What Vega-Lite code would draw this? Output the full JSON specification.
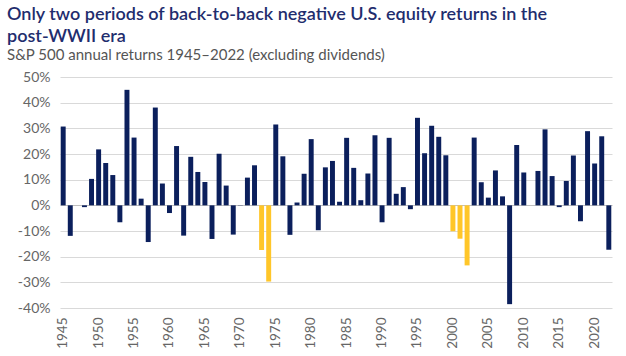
{
  "$schema": "https://vega.github.io/schema/vega-lite/v6.json",
  "autosize": "none",
  "width": 552,
  "height": 231,
  "padding": {"left": 60, "top": 77, "right": 14, "bottom": 48},
  "background": "white",
  "title": {
    "text": ["Only two periods of back-to-back negative U.S. equity returns in the", "post-WWII era"],
    "subtitle": "S&P 500 annual returns 1945–2022 (excluding dividends)",
    "anchor": "start",
    "frame": "group",
    "dx": -53,
    "offset": 7,
    "font": "Lato",
    "fontSize": 18,
    "fontWeight": 600,
    "color": "#1F2D6E",
    "lineHeight": 22,
    "subtitleFont": "Lato",
    "subtitleFontSize": 15,
    "subtitleColor": "#555555",
    "subtitlePadding": 2
  },
  "config": {
    "view": {"stroke": null},
    "font": "Lato"
  },
  "data": {
    "values": [
      {"year": 1945, "ret": 30.7, "group": "other"},
      {"year": 1946, "ret": -11.9, "group": "other"},
      {"year": 1947, "ret": 0.0, "group": "other"},
      {"year": 1948, "ret": -0.7, "group": "other"},
      {"year": 1949, "ret": 10.3, "group": "other"},
      {"year": 1950, "ret": 21.8, "group": "other"},
      {"year": 1951, "ret": 16.5, "group": "other"},
      {"year": 1952, "ret": 11.8, "group": "other"},
      {"year": 1953, "ret": -6.6, "group": "other"},
      {"year": 1954, "ret": 45.0, "group": "other"},
      {"year": 1955, "ret": 26.4, "group": "other"},
      {"year": 1956, "ret": 2.6, "group": "other"},
      {"year": 1957, "ret": -14.3, "group": "other"},
      {"year": 1958, "ret": 38.1, "group": "other"},
      {"year": 1959, "ret": 8.5, "group": "other"},
      {"year": 1960, "ret": -3.0, "group": "other"},
      {"year": 1961, "ret": 23.1, "group": "other"},
      {"year": 1962, "ret": -11.8, "group": "other"},
      {"year": 1963, "ret": 18.9, "group": "other"},
      {"year": 1964, "ret": 13.0, "group": "other"},
      {"year": 1965, "ret": 9.1, "group": "other"},
      {"year": 1966, "ret": -13.1, "group": "other"},
      {"year": 1967, "ret": 20.1, "group": "other"},
      {"year": 1968, "ret": 7.7, "group": "other"},
      {"year": 1969, "ret": -11.4, "group": "other"},
      {"year": 1970, "ret": 0.1, "group": "other"},
      {"year": 1971, "ret": 10.8, "group": "other"},
      {"year": 1972, "ret": 15.6, "group": "other"},
      {"year": 1973, "ret": -17.4, "group": "back-to-back"},
      {"year": 1974, "ret": -29.7, "group": "back-to-back"},
      {"year": 1975, "ret": 31.5, "group": "other"},
      {"year": 1976, "ret": 19.1, "group": "other"},
      {"year": 1977, "ret": -11.5, "group": "other"},
      {"year": 1978, "ret": 1.1, "group": "other"},
      {"year": 1979, "ret": 12.3, "group": "other"},
      {"year": 1980, "ret": 25.8, "group": "other"},
      {"year": 1981, "ret": -9.7, "group": "other"},
      {"year": 1982, "ret": 14.8, "group": "other"},
      {"year": 1983, "ret": 17.3, "group": "other"},
      {"year": 1984, "ret": 1.4, "group": "other"},
      {"year": 1985, "ret": 26.3, "group": "other"},
      {"year": 1986, "ret": 14.6, "group": "other"},
      {"year": 1987, "ret": 2.0, "group": "other"},
      {"year": 1988, "ret": 12.4, "group": "other"},
      {"year": 1989, "ret": 27.3, "group": "other"},
      {"year": 1990, "ret": -6.6, "group": "other"},
      {"year": 1991, "ret": 26.3, "group": "other"},
      {"year": 1992, "ret": 4.5, "group": "other"},
      {"year": 1993, "ret": 7.1, "group": "other"},
      {"year": 1994, "ret": -1.5, "group": "other"},
      {"year": 1995, "ret": 34.1, "group": "other"},
      {"year": 1996, "ret": 20.3, "group": "other"},
      {"year": 1997, "ret": 31.0, "group": "other"},
      {"year": 1998, "ret": 26.7, "group": "other"},
      {"year": 1999, "ret": 19.5, "group": "other"},
      {"year": 2000, "ret": -10.1, "group": "back-to-back"},
      {"year": 2001, "ret": -13.0, "group": "back-to-back"},
      {"year": 2002, "ret": -23.4, "group": "back-to-back"},
      {"year": 2003, "ret": 26.4, "group": "other"},
      {"year": 2004, "ret": 9.0, "group": "other"},
      {"year": 2005, "ret": 3.0, "group": "other"},
      {"year": 2006, "ret": 13.6, "group": "other"},
      {"year": 2007, "ret": 3.5, "group": "other"},
      {"year": 2008, "ret": -38.5, "group": "other"},
      {"year": 2009, "ret": 23.5, "group": "other"},
      {"year": 2010, "ret": 12.8, "group": "other"},
      {"year": 2011, "ret": 0.0, "group": "other"},
      {"year": 2012, "ret": 13.4, "group": "other"},
      {"year": 2013, "ret": 29.6, "group": "other"},
      {"year": 2014, "ret": 11.4, "group": "other"},
      {"year": 2015, "ret": -0.7, "group": "other"},
      {"year": 2016, "ret": 9.5, "group": "other"},
      {"year": 2017, "ret": 19.4, "group": "other"},
      {"year": 2018, "ret": -6.2, "group": "other"},
      {"year": 2019, "ret": 28.9, "group": "other"},
      {"year": 2020, "ret": 16.3, "group": "other"},
      {"year": 2021, "ret": 26.9, "group": "other"},
      {"year": 2022, "ret": -17.3, "group": "other"}
    ]
  },
  "mark": {"type": "bar"},
  "encoding": {
    "x": {
      "field": "year",
      "type": "ordinal",
      "scale": {"paddingInner": 0.3, "paddingOuter": 0.1},
      "axis": {
        "title": null,
        "values": [1945, 1950, 1955, 1960, 1965, 1970, 1975, 1980, 1985, 1990, 1995, 2000, 2005, 2010, 2015, 2020],
        "labelAngle": -90,
        "labelFontSize": 13.5,
        "labelColor": "#666666",
        "labelFont": "Lato",
        "ticks": false,
        "domain": false,
        "labelPadding": 9,
        "grid": false
      }
    },
    "y": {
      "field": "ret",
      "type": "quantitative",
      "scale": {"domain": [-40, 50], "nice": false},
      "axis": {
        "title": null,
        "values": [-40, -30, -20, -10, 0, 10, 20, 30, 40, 50],
        "labelExpr": "datum.value + '%'",
        "labelOverlap": false,
        "labelFontSize": 14,
        "labelColor": "#666666",
        "labelFont": "Lato",
        "ticks": false,
        "domain": false,
        "labelPadding": 10,
        "gridColor": {"condition": {"test": "datum.value === 0", "value": "#bfbfbf"}, "value": "#d9d9d9"},
        "gridWidth": 1
      }
    },
    "color": {
      "field": "group",
      "type": "nominal",
      "scale": {"domain": ["other", "back-to-back"], "range": ["#0B1F5C", "#FFC629"]},
      "legend": null
    }
  }
}
